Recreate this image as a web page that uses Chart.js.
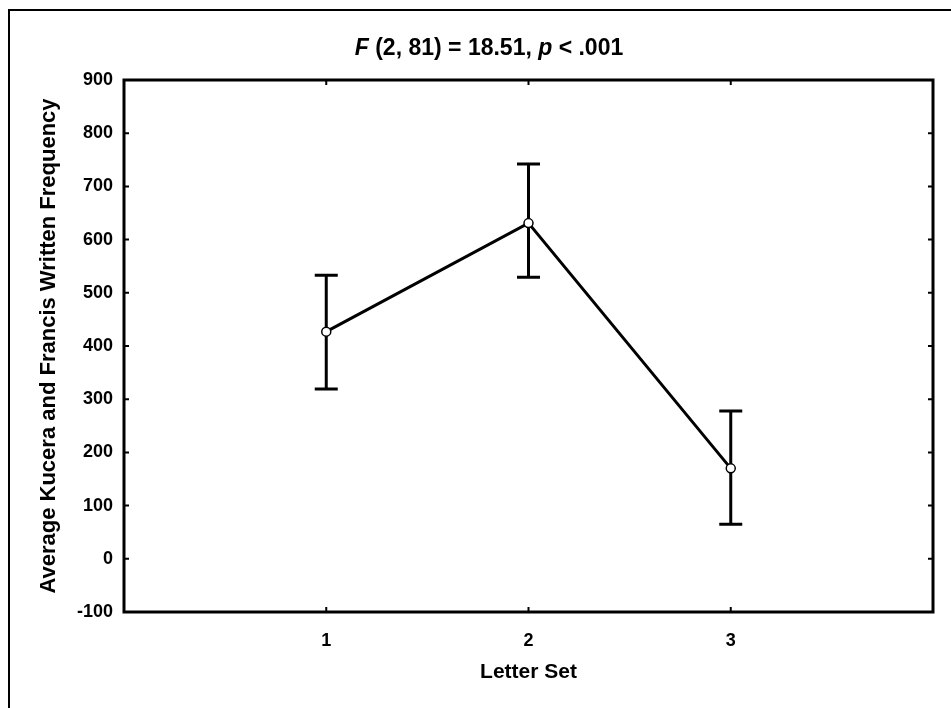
<!DOCTYPE html>
<html>
<head>
<meta charset="utf-8">
<title>Letter Set Frequency</title>
<script src="https://cdn.jsdelivr.net/npm/chart.js@4.4.0/dist/chart.umd.min.js"></script>
<style>
    html, body { margin: 0; padding: 0; background: #fff; }
    #wrap { width: 951px; height: 708px; }
</style>
</head>
<body>
<div id="wrap"><canvas id="freqChart" width="951" height="708"></canvas></div>
<script>
// Chart data
const letterSets = [1, 2, 3];
const xTickLabels = ['1', '2', '3'];
const means = [427, 631, 170];
const upperBars = [533, 742, 278];
const lowerBars = [319, 529, 65];
const yMin = -100;
const yMax = 900;
const yStep = 100;

const FONT = '"Liberation Sans", Arial, Helvetica, sans-serif';

// Outer frame, plot frame and inward tick marks
const framePlugin = {
    id: 'frame',
    afterDraw(chart) {
        const ctx = chart.ctx;
        const area = chart.chartArea;
        const xs = chart.scales.x;
        const ys = chart.scales.y;
        ctx.save();
        ctx.strokeStyle = '#000';

        // page border (only top and left show in the crop)
        ctx.lineWidth = 2;
        ctx.beginPath();
        ctx.moveTo(9, 708);
        ctx.lineTo(9, 10);
        ctx.lineTo(951, 10);
        ctx.stroke();

        // plot frame
        ctx.lineWidth = 3;
        ctx.strokeRect(area.left, area.top, area.right - area.left, area.bottom - area.top);

        // inward ticks
        ctx.lineWidth = 2;
        ctx.beginPath();
        ys.ticks.forEach(t => {
            const y = ys.getPixelForValue(t.value);
            ctx.moveTo(area.left, y);
            ctx.lineTo(area.left + 5, y);
            ctx.moveTo(area.right, y);
            ctx.lineTo(area.right - 5, y);
        });
        letterSets.forEach(v => {
            const x = xs.getPixelForValue(v);
            ctx.moveTo(x, area.top);
            ctx.lineTo(x, area.top + 5);
            ctx.moveTo(x, area.bottom);
            ctx.lineTo(x, area.bottom - 5);
        });
        ctx.stroke();

        // title with italic F and p, centred on the page
        const parts = [
            { text: 'F', italic: true },
            { text: ' (2, 81) = 18.51, ', italic: false },
            { text: 'p', italic: true },
            { text: ' < .001', italic: false }
        ];
        const fontFor = p => (p.italic ? 'italic ' : '') + 'bold 23px ' + FONT;
        let total = 0;
        parts.forEach(p => {
            ctx.font = fontFor(p);
            p.w = ctx.measureText(p.text).width;
            total += p.w;
        });
        let x = 489 - total / 2;
        ctx.fillStyle = '#000';
        ctx.textBaseline = 'middle';
        ctx.textAlign = 'left';
        parts.forEach(p => {
            ctx.font = fontFor(p);
            ctx.fillText(p.text, x, 49);
            x += p.w;
        });
        ctx.restore();
    }
};

// Error bars drawn under the line and markers
const errorBarPlugin = {
    id: 'errorBars',
    beforeDatasetsDraw(chart) {
        const ctx = chart.ctx;
        const xs = chart.scales.x;
        const ys = chart.scales.y;
        ctx.save();
        ctx.strokeStyle = '#000';
        ctx.lineWidth = 3;
        ctx.beginPath();
        letterSets.forEach((v, i) => {
            const x = xs.getPixelForValue(v);
            const yTop = ys.getPixelForValue(upperBars[i]);
            const yBot = ys.getPixelForValue(lowerBars[i]);
            ctx.moveTo(x, yTop);
            ctx.lineTo(x, yBot);
            ctx.moveTo(x - 11.5, yTop);
            ctx.lineTo(x + 11.5, yTop);
            ctx.moveTo(x - 11.5, yBot);
            ctx.lineTo(x + 11.5, yBot);
        });
        ctx.stroke();
        ctx.restore();
    }
};

const ctx = document.getElementById('freqChart');

new Chart(ctx, {
    type: 'scatter',
    data: {
        datasets: [{
            data: letterSets.map((v, i) => ({ x: v, y: means[i] })),
            showLine: true,
            borderColor: '#000',
            borderWidth: 3,
            pointRadius: 4.5,
            pointBackgroundColor: '#fff',
            pointBorderColor: '#000',
            pointBorderWidth: 1.5
        }]
    },
    options: {
        responsive: false,
        animation: false,
        layout: {
            padding: { left: 0, top: 80, right: 18, bottom: 0 }
        },
        plugins: {
            legend: { display: false },
            tooltip: { enabled: false }
        },
        scales: {
            x: {
                type: 'linear',
                min: 0,
                max: 4,
                grid: { display: false, drawTicks: false },
                border: { display: false },
                afterBuildTicks(scale) {
                    scale.ticks = letterSets.map(v => ({ value: v }));
                },
                afterFit(scale) {
                    scale.height = 96;
                },
                ticks: {
                    color: '#000',
                    padding: 18,
                    font: { family: FONT, size: 18, weight: 'bold' },
                    callback: (value) => xTickLabels[letterSets.indexOf(value)]
                },
                title: {
                    display: true,
                    text: 'Letter Set',
                    color: '#000',
                    font: { family: FONT, size: 21, weight: 'bold' },
                    padding: { top: 0, bottom: 23 }
                }
            },
            y: {
                min: yMin,
                max: yMax,
                grid: { display: false, drawTicks: false },
                border: { display: false },
                afterFit(scale) {
                    scale.width = 124;
                },
                ticks: {
                    stepSize: yStep,
                    color: '#000',
                    padding: 11,
                    font: { family: FONT, size: 18, weight: 'bold' }
                },
                title: {
                    display: true,
                    text: 'Average Kucera and Francis Written Frequency',
                    color: '#000',
                    font: { family: FONT, size: 22, weight: 'bold' },
                    padding: { top: 36, bottom: 0 }
                }
            }
        }
    },
    plugins: [errorBarPlugin, framePlugin]
});
</script>
</body>
</html>
